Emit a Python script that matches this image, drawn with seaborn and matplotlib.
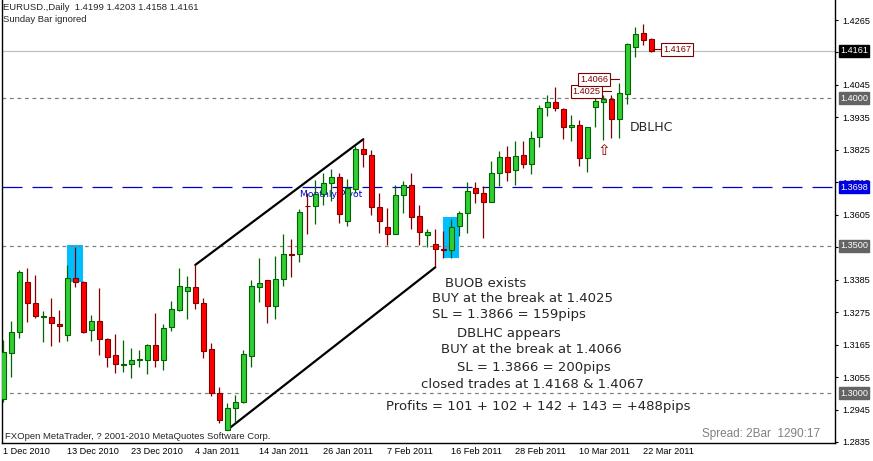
import numpy as np
import pandas as pd
import seaborn as sns
import matplotlib.pyplot as plt
from matplotlib.patches import Rectangle
from matplotlib.transforms import blended_transform_factory

# EURUSD daily bars, 1 Dec 2010 .. 25 Mar 2011
opens = [1.2981, 1.3136, 1.3207, 1.3376, 1.3305, 1.3258, 1.3258, 1.3234, 1.3197, 1.3390,
         1.3376, 1.3213, 1.3245, 1.3184, 1.3129, 1.3095, 1.3098, 1.3112, 1.3112, 1.3163,
         1.3112, 1.3224, 1.3282, 1.3346, 1.3359, 1.3305, 1.3149, 1.3000, 1.2876, 1.2949,
         1.2971, 1.3127, 1.3361, 1.3383, 1.3296, 1.3386, 1.3471, 1.3471, 1.3636, 1.3636,
         1.3675, 1.3712, 1.3732, 1.3585, 1.3691, 1.3828, 1.3808, 1.3630, 1.3563, 1.3539,
         1.3671, 1.3706, 1.3601, 1.3535, 1.3505, 1.3489, 1.3486, 1.3567, 1.3610, 1.3697,
         1.3678, 1.3649, 1.3746, 1.3800, 1.3758, 1.3808, 1.3776, 1.3868, 1.3969, 1.3986,
         1.3963, 1.3901, 1.3909, 1.3796, 1.3971, 1.3986, 1.3996, 1.3929, 1.4013, 1.4175,
         1.4220, 1.4199]
highs = [1.3181, 1.3245, 1.3418, 1.3424, 1.3401, 1.3279, 1.3322, 1.3282, 1.3435, 1.3497,
         1.3382, 1.3265, 1.3356, 1.3186, 1.3201, 1.3181, 1.3153, 1.3147, 1.3167, 1.3272,
         1.3235, 1.3313, 1.3425, 1.3397, 1.3435, 1.3324, 1.3171, 1.3022, 1.2966, 1.2994,
         1.3147, 1.3384, 1.3457, 1.3383, 1.3465, 1.3540, 1.3523, 1.3624, 1.3678, 1.3723,
         1.3746, 1.3759, 1.3746, 1.3726, 1.3838, 1.3861, 1.3824, 1.3680, 1.3627, 1.3706,
         1.3720, 1.3746, 1.3638, 1.3557, 1.3557, 1.3550, 1.3590, 1.3618, 1.3715, 1.3715,
         1.3701, 1.3786, 1.3821, 1.3838, 1.3855, 1.3855, 1.3889, 1.3977, 1.4011, 1.4037,
         1.3968, 1.3943, 1.3926, 1.3901, 1.4011, 1.4011, 1.4011, 1.4053, 1.4186, 1.4242,
         1.4251, 1.4203]
lows = [1.2970, 1.3056, 1.3188, 1.3243, 1.3256, 1.3175, 1.3161, 1.3175, 1.3178, 1.3361,
        1.3205, 1.3178, 1.3131, 1.3090, 1.3070, 1.3073, 1.3053, 1.3090, 1.3066, 1.3090,
        1.3080, 1.3212, 1.3280, 1.3251, 1.3287, 1.3121, 1.2992, 1.2900, 1.2876, 1.2904,
        1.2968, 1.3088, 1.3310, 1.3239, 1.3251, 1.3365, 1.3395, 1.3446, 1.3539, 1.3573,
        1.3638, 1.3652, 1.3578, 1.3567, 1.3680, 1.3766, 1.3604, 1.3544, 1.3503, 1.3539,
        1.3610, 1.3557, 1.3503, 1.3495, 1.3427, 1.3457, 1.3457, 1.3533, 1.3544, 1.3646,
        1.3525, 1.3647, 1.3704, 1.3720, 1.3706, 1.3764, 1.3742, 1.3834, 1.3938, 1.3957,
        1.3861, 1.3855, 1.3771, 1.3751, 1.3903, 1.3860, 1.3866, 1.3866, 1.3979, 1.4139,
        1.4180, 1.4158]
closes = [1.3140, 1.3207, 1.3410, 1.3305, 1.3261, 1.3261, 1.3237, 1.3227, 1.3390, 1.3376,
          1.3209, 1.3245, 1.3183, 1.3124, 1.3098, 1.3098, 1.3112, 1.3116, 1.3163, 1.3112,
          1.3220, 1.3285, 1.3363, 1.3359, 1.3305, 1.3144, 1.3000, 1.2909, 1.2949, 1.2971,
          1.3132, 1.3364, 1.3373, 1.3296, 1.3386, 1.3471, 1.3469, 1.3613, 1.3634, 1.3675,
          1.3712, 1.3732, 1.3607, 1.3695, 1.3828, 1.3811, 1.3632, 1.3585, 1.3539, 1.3672,
          1.3706, 1.3598, 1.3548, 1.3548, 1.3488, 1.3487, 1.3565, 1.3610, 1.3687, 1.3678,
          1.3647, 1.3746, 1.3800, 1.3749, 1.3804, 1.3776, 1.3864, 1.3966, 1.3986, 1.3968,
          1.3901, 1.3909, 1.3796, 1.3901, 1.3990, 1.3996, 1.3929, 1.4017, 1.4183, 1.4217,
          1.4197, 1.4161]

date_ticks = [0, 8, 16, 24, 32, 40, 48, 56, 64, 72, 80]
date_labels = ['1 Dec 2010', '13 Dec 2010', '23 Dec 2010', '4 Jan 2011', '14 Jan 2011',
               '26 Jan 2011', '7 Feb 2011', '16 Feb 2011', '28 Feb 2011', '10 Mar 2011',
               '22 Mar 2011']
price_ticks = [1.2835, 1.2945, 1.3055, 1.3165, 1.3275, 1.3385, 1.3495, 1.3605,
               1.3715, 1.3825, 1.3935, 1.4045, 1.4155, 1.4265]
hidden_ticks = [1.3495, 1.4155]   # covered by the level boxes on the chart

# levels / objects
round_levels = [1.3000, 1.3500, 1.4000]
pivot_level = 1.3698
bid_level = 1.4161
chan_upper_x, chan_upper_y = [24, 45], [1.3435, 1.3861]
chan_lower_x, chan_lower_y = [28, 54], [1.2876, 1.3427]
boxes = [(8, 10, 1.3378, 1.3503), (55, 57, 1.3457, 1.3598)]

notes = ['BUOB exists', 'BUY at the break at 1.4025', 'SL = 1.3866 = 159pips',
         'DBLHC appears', 'BUY at the break at 1.4066', 'SL = 1.3866 = 200pips',
         'closed trades at 1.4168 & 1.4067',
         'Profits = 101 + 102 + 142 + 143 = +488pips']
notes_x = [55.2, 53.6, 53.6, 56.7, 54.7, 56.7, 52.2, 47.8]
notes_y = [1.3373, 1.3320, 1.3268, 1.3203, 1.3147, 1.3087, 1.3031, 1.2955]

df = pd.DataFrame({'open': opens, 'high': highs, 'low': lows, 'close': closes})
df['i'] = np.arange(len(df))
df['up'] = df['close'] >= df['open']

sns.set_style('white')
plt.rcParams['font.family'] = ['Liberation Sans', 'DejaVu Sans']

fig = plt.figure(figsize=(8.73, 4.61), dpi=100)
ax = fig.add_axes([2 / 873, 18 / 461, 833 / 873, 443 / 461])
ax.set_xlim(-0.16, 103.96)
ax.set_ylim(1.28315, 1.43328)

# highlight boxes
for x0, x1, y0, y1 in boxes:
    ax.add_patch(Rectangle((x0 - 0.08, y0), x1 - x0, y1 - y0, color='#00bfff',
                           lw=0, zorder=1))

# horizontal lines
for lv in round_levels:
    ax.axhline(lv, color='#808080', lw=0.9, ls=(0, (3, 3)), zorder=1.2)
ax.axhline(pivot_level, color='#0000cd', lw=0.9, ls=(0, (16, 8)), zorder=1.2)
ax.axhline(bid_level, color='#c0c0c0', lw=0.9, zorder=1.2)
ax.text(37.1, 1.3675, 'Monthly Pivot', color='#0000cd', fontsize=6.6,
        family='DejaVu Sans', va='center', ha='left', zorder=1.3)

# channel
sns.lineplot(x=chan_upper_x, y=chan_upper_y, color='black', lw=1.6, ax=ax, zorder=2)
sns.lineplot(x=chan_lower_x, y=chan_lower_y, color='black', lw=1.6, ax=ax, zorder=2)

# candles
wick_col = np.where(df['up'], '#006400', '#800000')
ax.vlines(df['i'], df['low'], df['high'], colors=wick_col, lw=0.9, zorder=3)
body_lo = df[['open', 'close']].min(axis=1)
body_h = (df['close'] - df['open']).abs().clip(lower=0.00005)
ax.bar(df['i'], body_h, bottom=body_lo, width=0.6,
       color=np.where(df['up'], '#32cd32', '#ff0000'),
       edgecolor=np.where(df['up'], '#006400', '#800000'), lw=0.8, zorder=4)

# trade annotations
for t, x, y in zip(notes, notes_x, notes_y):
    ax.text(x, y, t, fontsize=9.5, family='DejaVu Sans', ha='left', va='center', zorder=5)
ax.text(78.3, 1.3900, 'DBLHC', fontsize=9, family='DejaVu Sans', ha='left', va='center')
ax.text(75.0, 1.3824, '\u21e7', fontsize=11, family='DejaVu Sans', color='#800000',
        ha='center', va='center')

# price labels
for txt, x, y, lx in [('1.4025', 72.9, 1.4023, [74.8, 75.95]),
                      ('1.4066', 73.85, 1.4064, [75.7, 76.95]),
                      ('1.4167', 84.2, 1.4166, [81.2, 82.5])]:
    ax.plot(lx, [y, y], color='#800000', lw=0.8, zorder=5)
    ax.text(x, y, txt, fontsize=6.6, color='#800000', ha='center', va='center', zorder=6,
            bbox=dict(boxstyle='square,pad=0.2', fc='white', ec='#800000', lw=0.8))

# axes
for s in ['left', 'bottom', 'right']:
    ax.spines[s].set_color('black')
    ax.spines[s].set_linewidth(1)
ax.spines['top'].set_visible(False)
ax.yaxis.tick_right()
ax.set_yticks(price_ticks)
ax.set_yticklabels(['' if p in hidden_ticks else f'{p:.4f}' for p in price_ticks])
ax.set_xticks(date_ticks)
ax.set_xticklabels(date_labels, ha='left')
ax.tick_params(axis='both', length=2, width=0.8, labelsize=6.6, colors='black')
ax.tick_params(axis='y', pad=3)
ax.tick_params(axis='x', pad=1)

# right axis level boxes
tr = blended_transform_factory(ax.transAxes, ax.transData)
for lv, col in [(bid_level, 'black'), (1.4000, '#646464'), (pivot_level, '#0000e6'),
                (1.3500, '#646464'), (1.3000, '#646464')]:
    ax.text(1.0 + 5 / 833, lv, f'{lv:.4f}', transform=tr, fontsize=6.6, color='white',
            ha='left', va='center', clip_on=False, zorder=10,
            bbox=dict(boxstyle='square,pad=0.15', fc=col, ec=col))

fig.text(3 / 873, 1 - 7 / 461, 'EURUSD.,Daily  1.4199 1.4203 1.4158 1.4161',
         fontsize=6.8, va='center', ha='left')
fig.text(3 / 873, 1 - 19 / 461, 'Sunday Bar ignored', fontsize=6.8, va='center', ha='left')
fig.text(5 / 873, 1 - 436 / 461, 'FXOpen MetaTrader, ? 2001-2010 MetaQuotes Software Corp.',
         fontsize=6.8, va='center', ha='left')
fig.text(820 / 873, 1 - 434 / 461, 'Spread: 2Bar  1290:17', fontsize=8.5, color='#808080',
         va='center', ha='right')

fig.savefig('out.png', dpi=100)
